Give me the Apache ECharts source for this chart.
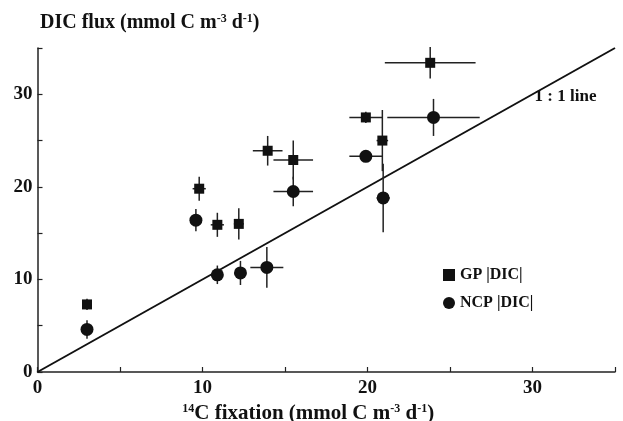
<!DOCTYPE html>
<html>
<head>
<meta charset="utf-8">
<script src="https://cdn.jsdelivr.net/npm/echarts@6/dist/echarts.min.js"></script>
<style>html,body{margin:0;padding:0;background:#fff}#c{width:623px;height:421px}</style>
</head>
<body>
<div id="c"></div>
<script>
// GP |DIC| : x (14C fixation), y (DIC flux), x error, y error
const gpX  = [3.0, 9.8, 10.9, 12.2, 13.95, 15.5, 19.9, 20.9, 23.8];
const gpY  = [7.3, 19.8, 15.9, 16.0, 23.9, 22.9, 27.5, 25.0, 33.4];
const gpXe = [0.0, 0.4, 0.4, 0.3, 0.9, 1.2, 1.0, 0.35, 2.75];
const gpYe = [0.6, 1.3, 1.3, 1.7, 1.6, 2.1, 0.6, 3.3, 1.7];
// NCP |DIC|
const ncpX  = [3.0, 9.6, 10.9, 12.3, 13.9, 15.5, 19.9, 20.95, 24.0];
const ncpY  = [4.6, 16.4, 10.5, 10.7, 11.3, 19.5, 23.3, 18.8, 27.5];
const ncpXe = [0.0, 0.2, 0.2, 0.2, 1.0, 1.2, 1.0, 0.4, 2.8];
const ncpYe = [1.0, 1.2, 1.0, 1.3, 2.2, 1.6, 0.3, 3.7, 2.0];
// 1:1 line and its label position
const oneToOne = [[0, 0], [35, 35]];
const lineLabelAt = [[32.0, 29.7]];
const axisTicks = [0, 10, 20, 30];

const FONT = 'Liberation Serif';
const INK = '#111';

function pts(xs, ys) { return xs.map((x, i) => [x, ys[i]]); }
function errs(xs, ys, xe, ye) { return xs.map((x, i) => [x, ys[i], xe[i], ye[i]]); }

function errRender(params, api) {
  const x = api.value(0), y = api.value(1), ex = api.value(2), ey = api.value(3);
  const children = [];
  const st = { stroke: '#222', lineWidth: 1.5 };
  if (ex > 0) {
    const a = api.coord([x - ex, y]), b = api.coord([x + ex, y]);
    children.push({ type: 'line', shape: { x1: a[0], y1: a[1], x2: b[0], y2: b[1] }, style: st });
  }
  if (ey > 0) {
    const a = api.coord([x, y - ey]), b = api.coord([x, y + ey]);
    children.push({ type: 'line', shape: { x1: a[0], y1: a[1], x2: b[0], y2: b[1] }, style: st });
  }
  return { type: 'group', children };
}

const supStyle = { fontSize: 12, fontFamily: FONT, fontWeight: 'bold', color: INK, verticalAlign: 'top', padding: [0, 0, 7, 0] };

const chart = echarts.init(document.getElementById('c'), null, { renderer: 'canvas' });
const axisCommon = {
  type: 'value', min: 0, max: 35, interval: 5,
  axisLine: { show: true, lineStyle: { color: '#222', width: 1.5 } },
  axisTick: { show: true, inside: true, length: 5, lineStyle: { color: '#222', width: 1.2 } },
  splitLine: { show: false },
  axisLabel: {
    color: INK, fontFamily: FONT, fontWeight: 'bold', fontSize: 19,
    formatter: v => axisTicks.indexOf(v) >= 0 ? String(v) : ''
  }
};
chart.setOption({
  animation: false,
  backgroundColor: '#fff',
  grid: { left: 37.5, right: 8, top: 48, bottom: 49, containLabel: false, outerBoundsMode: 'none' },
  title: {
    text: 'DIC flux (mmol C m{s|-3} d{s|-1})',
    left: 35, top: 8,
    textStyle: {
      color: INK, fontFamily: FONT, fontWeight: 'bold', fontSize: 20,
      rich: { s: supStyle }
    }
  },
  legend: {
    orient: 'vertical', left: 438, top: 262, itemGap: 12,
    itemWidth: 12, itemHeight: 12,
    textStyle: { color: INK, fontFamily: FONT, fontWeight: 'bold', fontSize: 16 },
    data: [{ name: 'GP |DIC|', icon: 'rect' }, { name: 'NCP |DIC|', icon: 'circle' }]
  },
  xAxis: Object.assign({}, axisCommon, {
    axisLabel: Object.assign({}, axisCommon.axisLabel, { margin: 7 }),
    name: '{s|14}C fixation (mmol C m{s|-3} d{s|-1})',
    nameLocation: 'middle', nameGap: 27,
    nameTextStyle: {
      color: INK, fontFamily: FONT, fontWeight: 'bold', fontSize: 21,
      padding: [0, 36, 0, 0],
      rich: { s: supStyle }
    }
  }),
  yAxis: Object.assign({}, axisCommon, {
    axisLabel: Object.assign({}, axisCommon.axisLabel, { margin: 5 })
  }),
  series: [
    {
      type: 'line', data: oneToOne, showSymbol: false, symbol: 'none',
      lineStyle: { color: INK, width: 2 }, z: 1, silent: true
    },
    {
      type: 'scatter', name: 'lineLabel', data: lineLabelAt, symbolSize: 1,
      itemStyle: { color: 'rgba(0,0,0,0)' }, silent: true, z: 4,
      label: { show: true, position: 'inside', formatter: '1 : 1 line', color: INK, opacity: 1, textBorderWidth: 0, fontFamily: FONT, fontWeight: 'bold', fontSize: 17 }
    },
    { type: 'custom', name: 'gpErr', renderItem: errRender, data: errs(gpX, gpY, gpXe, gpYe), z: 2, silent: true, encode: { x: 0, y: 1 } },
    { type: 'custom', name: 'ncpErr', renderItem: errRender, data: errs(ncpX, ncpY, ncpXe, ncpYe), z: 2, silent: true, encode: { x: 0, y: 1 } },
    { type: 'scatter', name: 'GP |DIC|', symbol: 'rect', symbolSize: 10, data: pts(gpX, gpY), itemStyle: { color: INK, opacity: 1 }, z: 3 },
    { type: 'scatter', name: 'NCP |DIC|', symbol: 'circle', symbolSize: 13, data: pts(ncpX, ncpY), itemStyle: { color: INK, opacity: 1 }, z: 3 }
  ]
});
</script>
</body>
</html>
